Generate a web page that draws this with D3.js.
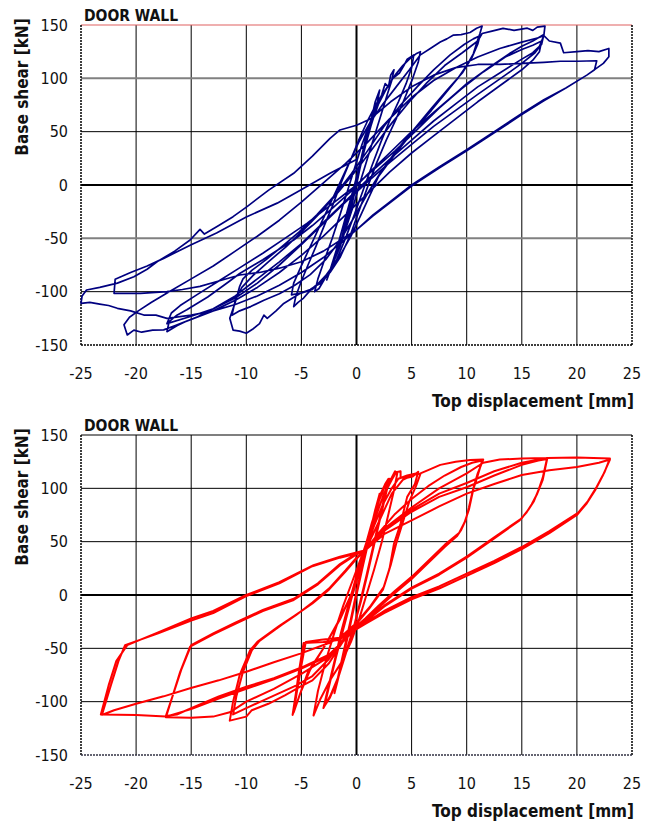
<!DOCTYPE html>
<html><head><meta charset="utf-8">
<script src="https://cdn.jsdelivr.net/npm/d3@7"></script>
<style>
body{margin:0;background:#fff;}
svg{display:block;font-family:"DejaVu Sans Condensed","DejaVu Sans",sans-serif;}
</style></head><body>
<svg id="chart" width="656" height="825"></svg>
<script>
const xTicks = [-25,-20,-15,-10,-5,0,5,10,15,20,25];
const yTicks = [-150,-100,-50,0,50,100,150];
const panelTitle = "DOOR WALL";
const xTitle = "Top displacement [mm]";
const yTitle = "Base shear [kN]";

// Experimental curve (top panel): [top displacement mm, base shear kN]
const experimental = [
[0,0],[0.3,15],[0.7,32],[1.0,45],[0.8,40],[0.4,22],[0,3],[-0.4,-15],[-0.8,-32],[-1.1,-45],[-0.9,-38],[-0.5,-20],[-0.1,-2],[0.4,20],[0.9,40],[1.3,55],[1.6,65],[1.4,60],[1.0,45],[0.5,25],[0,0],[-0.5,-22],[-1.0,-42],[-1.5,-58],[-1.9,-68],[-1.6,-60],[-1.1,-40],[-0.6,-18],[-0.1,3],[0.5,28],[1.1,50],[1.6,68],[2.0,80],[1.8,72],[2.1,89],[1.7,78],[1.2,55],[0.6,30],[0,5],[-0.6,-20],[-1.2,-45],[-1.8,-65],[-2.3,-78],[-2.7,-89],[-2.4,-80],[-1.8,-60],[-1.2,-38],[-0.5,-12],[0.2,15],[0.8,42],[1.3,58],[1.8,70],[2.3,85],[2.6,95],[2.9,92],[3.1,103],[3.4,108],[3.2,98],[2.8,85],[2.2,65],[1.6,45],[1.0,25],[0.4,5],[-0.3,-20],[-1.0,-42],[-1.7,-62],[-2.4,-80],[-3.0,-90],[-3.4,-97],[-3.8,-100],[-3.5,-88],[-2.9,-70],[-2.2,-50],[-1.5,-28],[-0.8,-5],[-0.2,15],[0.5,38],[1.2,58],[1.9,74],[2.6,88],[3.3,100],[3.9,105],[4.3,112],[4.6,118],[5.2,122],[5.0,110],[4.5,95],[3.8,78],[3.0,60],[2.2,40],[1.4,18],[0.6,-5],[-0.2,-28],[-1.0,-50],[-1.8,-70],[-2.5,-82],[-3.2,-92],[-3.8,-95],[-4.3,-100],[-4.8,-106],[-5.3,-110],[-5.7,-114],[-5.5,-104],[-5.0,-90],[-4.4,-75],[-3.7,-58],[-3.0,-40],[-2.2,-20],[-1.4,2],[-0.6,22],[0.2,42],[1.0,60],[1.9,78],[2.8,92],[3.5,103],[4.2,112],[4.8,118],[5.4,123],[5.8,125],[5.6,115],[5.1,100],[4.4,82],[3.6,62],[2.7,42],[1.8,20],[1.0,-2],[0.2,-25],[-0.6,-48],[-1.5,-68],[-2.4,-82],[-3.3,-92],[-4.2,-98],[-5.0,-101],[-5.9,-103],[-5.7,-92],[-5.1,-78],[-4.3,-60],[-3.4,-40],[-2.5,-20],[-1.6,0],[-0.7,20],[0.2,40],[1.2,58],[2.4,76],[3.6,92],[4.8,108],[5.8,122],[6.7,128],[7.6,134],[8.2,137],[8.8,140.6],[9.5,141],[10.3,143],[10.9,146.9],[11.4,149],[11.2,142],[10.9,133],[10.6,123],[10.0,112],[9.2,100],[8.0,85],[6.8,70],[5.5,55],[4.2,38],[3.0,22],[2.0,8],[1.2,-10],[0.4,-28],[-0.5,-48],[-1.6,-68],[-2.8,-85],[-4.0,-98],[-5.1,-101.6],[-5.8,-106],[-6.6,-111],[-7.3,-118],[-8.1,-125],[-8.4,-122],[-8.8,-130],[-9.4,-135],[-10.0,-139],[-10.6,-137],[-11.2,-136],[-11.5,-125],[-11.0,-110],[-10.6,-95],[-10.3,-88],[-9.5,-80],[-8.2,-70],[-6.8,-58],[-5.2,-44],[-3.6,-28],[-2.0,-10],[-0.5,10],[1.0,32],[2.5,55],[4.0,75],[5.5,92],[7.0,108],[8.5,122],[9.8,132],[10.6,137],[11.2,140],[11.0,132],[10.5,120],[9.6,105],[8.3,90],[6.8,72],[5.2,52],[3.6,32],[2.2,12],[1.0,-8],[-0.2,-30],[-1.5,-52],[-2.8,-70],[-4.2,-84],[-5.6,-94],[-7.0,-102],[-8.4,-108],[-9.6,-114],[-10.6,-118],[-11.3,-122],[-11.0,-108],[-10.4,-96],[-9.4,-85],[-8.0,-72],[-6.4,-58],[-4.8,-42],[-3.2,-25],[-1.6,-6],[0,14],[1.6,36],[3.2,58],[4.8,78],[6.4,96],[8.0,112],[9.6,124],[11.0,135],[11.4,142],[12.2,144],[13.3,146.9],[14.3,145],[15.5,147],[16.0,145],[16.4,148],[17.1,149],[17.0,140],[16.6,130],[16.0,124],[15.0,118],[13.0,105],[11.0,92],[9.0,76],[7.0,60],[5.0,42],[3.0,24],[1.0,5],[-1.0,-15],[-3.0,-35],[-5.0,-55],[-7.0,-72],[-9.0,-88],[-11.0,-104],[-13.0,-116],[-14.5,-124],[-15.5,-128],[-16.3,-132],[-17.2,-137.5],[-17.0,-128],[-16.3,-122],[-15.4,-117],[-13.5,-105],[-11.5,-90],[-10.6,-83],[-8.5,-70],[-7.0,-60],[-5.7,-51.6],[-4.0,-38],[-2.2,-22],[-0.5,-6],[1.2,12],[3.0,30],[5.0,50],[7.0,68],[9.0,86],[10.0,95],[12.0,110],[14.0,124],[15.0,130],[16.0,135],[17.0,141],[16.8,132],[16.2,124],[15.0,114],[13.5,103],[11.0,85],[9.0,70],[7.0,55],[5.0,38],[3.0,21],[1.0,3],[-1.0,-16],[-3.0,-36],[-5.0,-56],[-7.0,-75],[-9.0,-92],[-11.0,-106],[-13.0,-116],[-15.0,-123],[-17.2,-130],[-16.8,-120],[-16.0,-113],[-14.5,-103],[-12.5,-90],[-10.5,-77],[-8.5,-64],[-6.5,-50],[-4.5,-36],[-2.5,-20],[-0.5,-4],[1.5,14],[3.5,32],[5.5,52],[7.5,72],[9.5,90],[11.5,106],[13.5,120],[15.0,127],[16.0,131],[16.8,135],[16.6,125],[16.0,117],[15.0,108],[13.0,93],[11.0,78],[9.0,62],[7.0,46],[5.0,30],[3.0,12],[1.0,-8],[-1.0,-28],[-3.0,-48],[-5.0,-66],[-7.0,-82],[-9.0,-96],[-11.0,-108],[-13.0,-118],[-15.0,-126],[-16.5,-132],[-17.5,-135.8],[-18.5,-136],[-19.5,-138],[-20.2,-136],[-20.8,-140.6],[-21.1,-131],[-20.6,-124],[-19.8,-118],[-18.6,-110],[-17.0,-100],[-15.0,-88],[-13.0,-76],[-11.0,-62],[-9.0,-48],[-7.0,-33],[-5.0,-16],[-3.0,2],[-1.0,20],[1.0,40],[3.0,62],[5.0,82],[7.0,98],[9.0,110],[11.0,120],[13.0,128],[15.0,134],[16.5,138],[17.0,140],[17.5,135],[18.5,133],[18.8,124],[20.0,125],[21.0,126],[22.0,125],[22.9,128],[22.9,120.3],[22.4,114],[20.9,103],[19.0,91],[17.0,80],[15.0,67],[12.5,50],[10.0,33],[7.5,17],[5.0,0],[3.0,-16],[1.5,-28],[0,-42],[-1.5,-55],[-3.0,-68],[-5.0,-82],[-7.0,-94],[-9.0,-104],[-11.0,-112],[-13.0,-118],[-15.0,-122],[-17.2,-125],[-18.2,-122],[-19.3,-121.9],[-20.5,-118],[-21.7,-115.6],[-22.5,-113],[-23.3,-111.6],[-24.2,-110],[-25.0,-111],[-24.9,-104],[-24.5,-98.4],[-23.3,-96],[-21.7,-92],[-20.2,-86],[-19.0,-79],[-18.1,-72],[-16.5,-62],[-15.1,-51.6],[-14.2,-41.6],[-13.8,-46],[-12.5,-38],[-11.2,-29.7],[-9.9,-20],[-8.0,-5],[-5.7,11],[-4.0,27],[-2.4,43.8],[-1.5,51.6],[0,56],[1.2,61.6],[3.1,78],[5.0,92],[7.0,103],[9.0,110],[11.0,113],[13.0,113],[15.0,114],[17.0,115],[18.5,116],[20.0,116],[21.8,116.5],[21.6,108],[20.9,103],[19.0,91],[17.0,79],[15.0,66],[12.5,49],[10.0,32],[7.5,16],[5.0,-1],[3.0,-17],[1.5,-29],[0,-42],[-1.5,-52],[-3.0,-62],[-5.0,-72],[-7.0,-78],[-8.8,-82],[-10.6,-84.4],[-12.5,-90],[-14.2,-95],[-15.8,-98],[-17.2,-100],[-19.6,-101.6],[-22.0,-101.6],[-21.9,-88.4],[-20.5,-82],[-19.0,-76],[-17.5,-68.8],[-15.0,-56],[-12.7,-45],[-10.0,-30],[-7.2,-17],[-5.1,-5],[-2.4,11],[0,24]
];

// Numerical curve (bottom panel): [top displacement mm, base shear kN]
const numerical = [
[0,0],[0.6,30],[1.2,58],[1.7,80],[2.1,95],[1.8,82],[1.2,55],[0.6,28],[0,0],[-0.6,-30],[-1.2,-58],[-1.7,-80],[-2.0,-92],[-1.7,-78],[-1.1,-50],[-0.5,-22],[0.1,8],
[0.8,40],[1.5,70],[2.2,95],[2.6,104],[2.9,109],[2.6,95],[2.1,72],[1.5,45],[0.9,18],[0.3,-8],[-0.3,-32],[-1.0,-55],[-1.7,-78],[-2.4,-95],[-3.0,-106],[-2.6,-88],[-2.0,-62],[-1.4,-35],[-0.7,-8],[0,18],
[0.7,42],[1.4,68],[2.1,90],[2.7,105],[3.0,109],[2.7,96],[2.2,74],[1.6,47],[1.0,20],[0.4,-6],[-0.3,-32],[-1.0,-56],[-1.7,-79],[-2.4,-96],[-2.9,-104],[-2.5,-86],[-1.9,-60],[-1.2,-32],[-0.5,-5],[0.2,20],
[0.9,45],[1.7,72],[2.5,95],[3.1,108],[3.5,116],[3.7,114],[3.4,98],[2.9,76],[2.3,50],[1.6,24],[0.9,0],[0.2,-24],[-0.5,-44],[-1.3,-62],[-2.4,-80],[-3.3,-98],[-3.9,-113],[-3.5,-90],[-2.8,-62],[-2.0,-35],[-1.2,-10],[-0.3,15],
[0.6,40],[1.5,68],[2.4,92],[3.2,108],[3.6,115],[4.0,116],[4.0,110],[4.6,110],[5.1,111],[5.6,115.6],[5.3,104],[4.6,92],[4.0,67],[3.4,48],[3.0,25],[2.4,5],[1.2,-12],[0,-27],[-1.5,-42],[-3.0,-44],[-4.8,-45],[-5.2,-70],[-5.5,-92],[-5.8,-112.5],[-5.2,-95],[-4.4,-72],[-3.1,-51.6],[-1.5,-23],[-0.5,0],[0.3,25],[0.8,42],
[1.6,65],[2.4,85],[3.2,100],[3.8,109],[4.6,112],[5.4,114],[5.8,113.5],[5.4,102],[4.8,88],[4.2,68],[3.6,48],[3.1,28],[2.5,8],[1.3,-10],[0,-26],[-1.5,-40],[-3.2,-42],[-4.6,-44],[-5.0,-66],[-5.4,-90],[-5.7,-110],[-5.1,-92],[-4.2,-70],[-3.0,-50],[-1.5,-22],[-0.4,2],[0.3,26],[0.8,42],
[2.0,68],[3.2,95],[4.2,108],[5.0,112],[5.8,114],[6.5,117],[7.6,122],[9.0,125],[10.3,126.5],[11.5,127],
[11.0,114],[10.6,100],[10.2,82],[9.9,70],[9.5,61],[9.1,55],[8.0,45],[6.5,30],[5.0,15],[3.5,2],[2.0,-12],[0.8,-24],[0,-30],
[-1.0,-40],[-2.5,-64],[-4.0,-80],[-5.1,-86],[-6.5,-94],[-8.0,-102],[-9.5,-108],[-10.0,-114],[-11.5,-117.8],
[-11.2,-100],[-10.6,-75],[-9.65,-51.6],[-9.0,-44],[-7.0,-29],[-5.7,-20],[-4.0,-8],[-2.5,5],[-1.0,22],[0,34],[0.8,42],
[2.0,58],[3.5,76],[5.0,90],[6.5,102],[8.0,112],[9.5,120],[10.5,124],[11.4,126],
[11.0,112],[10.6,99],[10.2,80],[9.8,68],[9.3,58],[8.0,47],[6.5,32],[5.0,17],[3.5,4],[2.0,-10],[0.8,-22],[0,-29],
[-1.0,-39],[-2.5,-60],[-4.0,-76],[-5.5,-85],[-7.0,-92],[-8.5,-99],[-10.0,-106],[-11.2,-112],
[-10.9,-95],[-10.3,-72],[-9.5,-52],[-8.8,-43],[-6.8,-28],[-5.5,-19],[-4.0,-7],[-2.5,6],[-1.0,23],[0,35],[0.8,42],
[2.5,62],[5.0,82],[7.5,100],[10.0,114],[11.5,124],[13.0,127],[15.0,128],[17.3,128.5],
[16.9,110],[16.5,98],[16.1,88],[15.6,80],[15.0,72],[12.5,54],[10.0,36],[7.5,20],[5.0,7],[2.5,-10],[0.8,-24],[0,-30],
[-2.5,-58],[-5.0,-74],[-7.5,-88],[-10.0,-100],[-11.5,-110],[-13.0,-114],[-15.0,-115],[-17.3,-114.7],
[-16.7,-95],[-16.0,-72],[-15.1,-48.4],[-13.0,-37],[-11.0,-27],[-8.5,-15],[-5.7,-4.7],[-3.5,10],[-1.5,28],[0,38],[0.8,42],
[2.5,60],[5.0,78],[7.5,92],[10.0,101],[12.5,112],[15.0,122],[16.5,126],[17.3,127.5],
[16.9,108],[16.4,95],[15.9,85],[15.4,77],[14.8,70],[12.5,53],[10.0,35],[7.5,19],[5.0,6],[2.5,-11],[0.8,-25],[0,-31],
[-2.5,-56],[-5.0,-68],[-7.5,-78],[-10.0,-86],[-12.5,-95],[-15.0,-106],[-16.3,-112],[-17.3,-113.5],
[-16.6,-92],[-15.9,-70],[-15.0,-47],[-13.0,-36],[-11.0,-26],[-8.5,-14],[-5.7,-3.5],[-3.5,11],[-1.5,29],[0,39],[0.8,42],
[2.5,60],[5.0,80],[7.5,95],[10.0,105],[12.5,116],[15.0,124],[17.3,128.5],[20.0,129],[23.0,128],
[22.5,115],[21.8,101.5],[21.0,88],[20.1,77],[17.5,60],[15.0,45],[12.5,32],[10.0,20],[7.5,8],[5.0,-2],[2.5,-15],[0.8,-26],[0,-31],
[-2.5,-57],[-5.0,-69],[-7.5,-79],[-10.0,-88],[-12.5,-97],[-15.0,-107],[-17.3,-114],[-20.0,-112.5],[-23.2,-112],
[-22.5,-85],[-21.8,-62],[-20.8,-47],[-18.0,-35],[-15.0,-22],[-13.0,-15],[-10.0,0],[-7.0,12],[-3.9,28],[-1.5,36],[0.8,42],
[2.5,57],[5.0,70],[7.5,83],[10.0,95],[12.5,104],[15.0,112.5],[17.5,117],[20.0,120],[22.0,124],[23.0,127],
[22.4,113],[21.7,99],[20.9,86],[20.0,75],[17.5,58],[15.0,43],[12.5,30],[10.0,18],[7.5,6],[5.0,-4],[2.5,-17],[0.8,-27],[0,-32],
[-2.5,-45],[-5.1,-55],[-7.5,-63],[-10.0,-72],[-12.5,-80],[-15.1,-87.5],[-17.5,-95],[-20.0,-102],[-22.0,-108],[-23.1,-112.5],
[-22.3,-85],[-21.6,-62],[-21.0,-47],[-18.0,-36],[-15.0,-24],[-13.0,-17],[-10.0,-1],[-7.0,11],[-4.0,27],[-1.5,35],[0.8,41]
];

const svg = d3.select("#chart");
const X0 = 81, X1 = 632, H = 320;

function drawPanel(top, data, color, width, topBorder, bottomBorder, grayRows) {
  const x = d3.scaleLinear().domain([-25, 25]).range([X0, X1]);
  const y = d3.scaleLinear().domain([-150, 150]).range([top + H, top]);
  const g = svg.append("g");

  // grid
  g.selectAll(".vg").data(xTicks.filter(t => t > -25 && t < 25)).enter().append("line")
    .attr("x1", d => x(d)).attr("x2", d => x(d)).attr("y1", top).attr("y2", top + H)
    .attr("stroke", "#000").attr("stroke-width", d => d === 0 ? 2 : 1);
  g.selectAll(".hg").data(yTicks.filter(t => t > -150 && t < 150)).enter().append("line")
    .attr("x1", X0).attr("x2", X1).attr("y1", d => y(d)).attr("y2", d => y(d))
    .attr("stroke", d => grayRows.includes(d) ? "#808080" : "#000")
    .attr("stroke-width", d => d === 0 ? 2 : (grayRows.includes(d) ? 2 : 1));

  // frame
  g.append("line").attr("x1", X0).attr("x2", X1).attr("y1", top).attr("y2", top)
    .attr("stroke", topBorder).attr("stroke-width", 1.2);
  g.append("line").attr("x1", X0).attr("x2", X0).attr("y1", top).attr("y2", top + H)
    .attr("stroke", "#000").attr("stroke-width", 1.5).attr("stroke-dasharray", "2,1");
  g.append("line").attr("x1", X1).attr("x2", X1).attr("y1", top).attr("y2", top + H)
    .attr("stroke", "#000").attr("stroke-width", 1.5).attr("stroke-dasharray", "2,1");
  g.append("line").attr("x1", X0).attr("x2", X1).attr("y1", top + H).attr("y2", top + H)
    .attr("stroke", bottomBorder).attr("stroke-width", 1.5).attr("stroke-dasharray", "2,1");

  // curve
  const line = d3.line().x(d => x(d[0])).y(d => y(d[1]));
  g.append("path").datum(data).attr("d", line).attr("fill", "none")
    .attr("stroke", color).attr("stroke-width", width)
    .attr("stroke-linejoin", "round").attr("stroke-linecap", "round");

  // tick labels
  g.selectAll(".yl").data(yTicks).enter().append("text")
    .attr("x", 68).attr("y", d => y(d)).attr("dy", "0.36em")
    .attr("text-anchor", "end").attr("font-size", 16).attr("fill", "#111")
    .text(d => d);
  g.selectAll(".xl").data(xTicks).enter().append("text")
    .attr("x", d => x(d)).attr("y", top + H + 34)
    .attr("text-anchor", "middle").attr("font-size", 16).attr("fill", "#111")
    .text(d => d);

  // titles
  g.append("text").attr("x", 84).attr("y", top - 4).attr("font-size", 15.5)
    .attr("font-weight", "bold").attr("fill", "#111").text(panelTitle);
  g.append("text").attr("x", 634).attr("y", top + H + 62).attr("text-anchor", "end")
    .attr("font-size", 17).attr("font-weight", "bold").attr("fill", "#111").text(xTitle);
  g.append("text").attr("transform", `translate(28,${top + 62}) rotate(-90)`)
    .attr("text-anchor", "middle").attr("font-size", 17).attr("font-weight", "bold")
    .attr("fill", "#111").text(yTitle);
}

drawPanel(25, experimental, "#000080", 1.7, "#e06060", "#000", [100, -50]);
drawPanel(435, numerical, "#ff0000", 2, "#000", "#334", []);
</script>
</body></html>
